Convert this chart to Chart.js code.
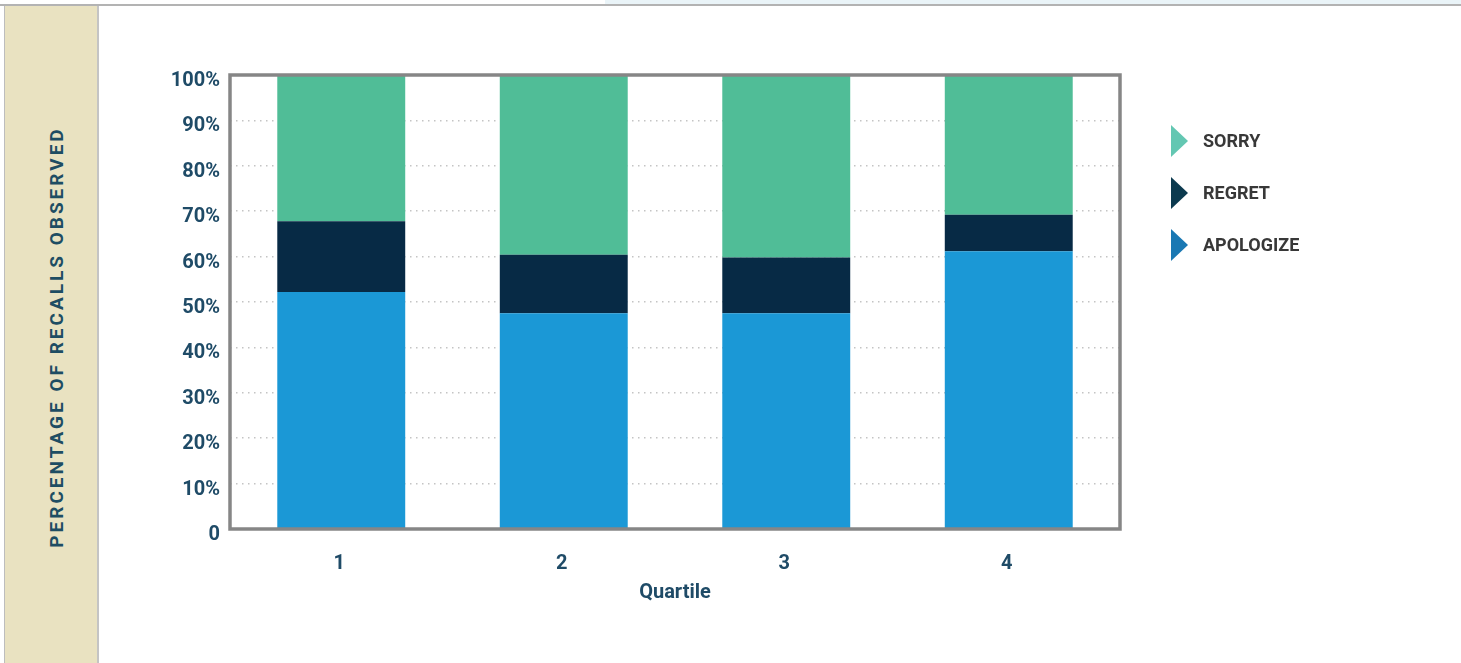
<!DOCTYPE html>
<html>
<head>
<meta charset="utf-8">
<title>Percentage of recalls observed by quartile</title>
<script src="https://cdn.jsdelivr.net/npm/chart.js@4.4.1/dist/chart.umd.min.js"></script>
<style>
  html, body { margin: 0; padding: 0; background: #ffffff; }
  body { width: 1461px; height: 663px; position: relative; overflow: hidden; font-family: Roboto, "Liberation Sans", sans-serif; }
  #topBand { position: absolute; left: 605px; top: 0; width: 856px; height: 4px; background: #eaf4f8; }
  #topRule { position: absolute; left: 0; top: 4px; width: 1461px; height: 2px; background: #b3b3b3; }
  #sidePanel { position: absolute; left: 4px; top: 6px; width: 92px; height: 657px; background: #e9e2c1;
               border-left: 1px solid #bdbdbd; border-right: 2px solid #c4c4c4; }
  #sideTitle { position: absolute; left: 56px; top: 337px; transform: translate(-50%, -50%) rotate(-90deg);
               white-space: nowrap; font-weight: 700; font-size: 19px; letter-spacing: 3px; color: #1e4d63; }
  #chartWrap { position: absolute; left: 0; top: 0; width: 1461px; height: 663px; }
  #legend { position: absolute; left: 1171px; top: 125px; }
  .item { position: relative; height: 52px; }
  .tri { position: absolute; left: 0; top: 0; width: 0; height: 0;
         border-top: 16px solid transparent; border-bottom: 16px solid transparent; border-left: 17px solid; }
  .lbl { position: absolute; left: 32px; top: 5px; font-weight: 700; font-size: 18px; line-height: 22px; color: #383838; white-space: nowrap; }
</style>
</head>
<body>
<div id="topBand"></div>
<div id="topRule"></div>
<div id="sidePanel"></div>
<div id="sideTitle">PERCENTAGE OF RECALLS OBSERVED</div>
<div id="chartWrap"><canvas id="chart" width="1461" height="663"></canvas></div>
<div id="legend"></div>
<script>
// Quartile categories and the share (%) of each wording in recalls observed
const quartiles = ['1', '2', '3', '4'];
const apologizeValues = [52.2, 47.5, 47.5, 61.2];
const regretValues = [15.6, 12.9, 12.3, 8.0];
const sorryValues = [32.2, 39.6, 40.2, 30.8];
const yTickValues = [0, 10, 20, 30, 40, 50, 60, 70, 80, 90, 100];

const seriesNames = ['APOLOGIZE', 'REGRET', 'SORRY'];
const barColors = ['#1b98d6', '#072a45', '#50bd97'];
const legendColors = ['#1a78b3', '#0c3a4f', '#63c7b2'];

const inkBlue = '#1f4b67';

// grey frame around the plotting area
const framePlugin = {
  id: 'plotFrame',
  afterDatasetsDraw(chart) {
    const a = chart.chartArea;
    const ctx = chart.ctx;
    ctx.save();
    ctx.strokeStyle = '#868686';
    ctx.lineWidth = 3.5;
    ctx.strokeRect(a.left, a.top, a.right - a.left, a.bottom - a.top);
    ctx.restore();
  }
};

Chart.defaults.font.family = 'Roboto, "Liberation Sans", sans-serif';

const chart = new Chart(document.getElementById('chart'), {
  type: 'bar',
  data: {
    labels: quartiles,
    datasets: [
      { label: seriesNames[0], data: apologizeValues, backgroundColor: barColors[0] },
      { label: seriesNames[1], data: regretValues, backgroundColor: barColors[1] },
      { label: seriesNames[2], data: sorryValues, backgroundColor: barColors[2] }
    ]
  },
  options: {
    responsive: false,
    animation: false,
    maintainAspectRatio: false,
    layout: { padding: { left: 0, top: 75, right: 341, bottom: 0 } },
    datasets: { bar: { barPercentage: 0.575, categoryPercentage: 1.0, borderWidth: 0 } },
    plugins: { legend: { display: false }, tooltip: { enabled: false } },
    scales: {
      x: {
        stacked: true,
        grid: { display: false, drawTicks: false },
        border: { display: false },
        ticks: { color: inkBlue, font: { size: 20, weight: 'bold' }, padding: 23, labelOffset: -2 },
        title: { display: true, text: 'Quartile', color: inkBlue, font: { size: 20, weight: 'bold' },
                 padding: { top: 0, bottom: 58 } },
        afterFit(scale) { scale.height = 134; }
      },
      y: {
        stacked: true,
        min: 0,
        max: 100,
        afterBuildTicks(scale) { scale.ticks = yTickValues.map(v => ({ value: v })); },
        grid: {
          drawTicks: false,
          color: ctx => (ctx.tick && (ctx.tick.value === 0 || ctx.tick.value === 100)) ? 'rgba(0,0,0,0)' : '#c4c4c4',
          lineWidth: 1.5
        },
        border: { display: false, dash: [1.5, 4.5] },
        ticks: {
          color: inkBlue,
          font: { size: 20, weight: 'bold' },
          padding: 10,
          labelOffset: 6,
          callback: v => v === 0 ? '0' : v + '%'
        },
        afterFit(scale) { scale.width = 230; }
      }
    }
  },
  plugins: [framePlugin]
});

// legend: right-pointing triangles, listed top of stack first
const legend = document.getElementById('legend');
for (let i = seriesNames.length - 1; i >= 0; i--) {
  const item = document.createElement('div');
  item.className = 'item';
  const tri = document.createElement('div');
  tri.className = 'tri';
  tri.style.borderLeftColor = legendColors[i];
  const lbl = document.createElement('div');
  lbl.className = 'lbl';
  lbl.textContent = seriesNames[i];
  item.appendChild(tri);
  item.appendChild(lbl);
  legend.appendChild(item);
}
</script>
</body>
</html>
